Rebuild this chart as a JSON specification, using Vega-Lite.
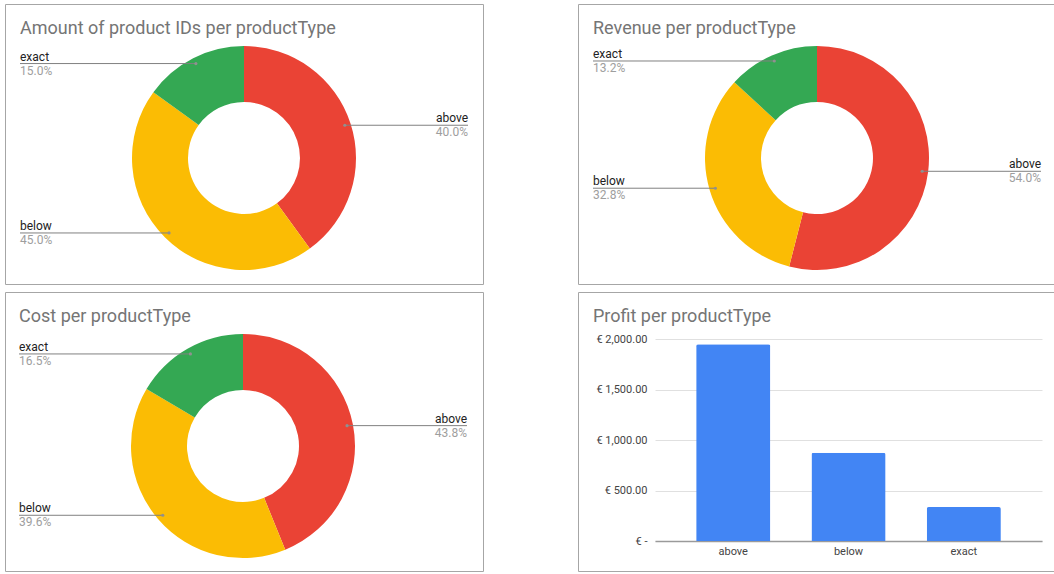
{
  "$schema": "https://vega.github.io/schema/vega-lite/v6.json",
  "background": "white",
  "padding": {"left": 4, "top": 3, "right": 0, "bottom": 0},
  "config": {
    "view": {"stroke": "#a6a6a6", "strokeWidth": 1},
    "font": "Roboto"
  },
  "spacing": 6,
  "vconcat": [
    {
      "spacing": 93,
      "hconcat": [
        {
          "width": 478, "height": 280,
          "title": {"text": "Amount of product IDs per productType", "anchor": "start", "frame": "group", "offset": -47.5, "dx": 15, "baseline": "alphabetic", "fontSize": 18, "fontWeight": "normal", "color": "#757575", "font": "Roboto"},
          "data": {"values": [
            {"type": "above", "value": 8},
            {"type": "below", "value": 9},
            {"type": "exact", "value": 3}
          ]},
          "transform": [
            {"joinaggregate": [{"op": "sum", "field": "value", "as": "total"}]},
            {"window": [{"op": "sum", "field": "value", "as": "cum"}], "sort": [{"field": "type"}], "frame": [null, 0]},
            {"calculate": "2*PI*(datum.cum - datum.value/2)/datum.total", "as": "mid"},
            {"calculate": "106*sin(datum.mid)", "as": "px"},
            {"calculate": "-106*cos(datum.mid)", "as": "py"},
            {"calculate": "datum.px < 0 ? -224 : 224", "as": "lx"},
            {"calculate": "datum.value/datum.total", "as": "pct"}
          ],
          "encoding": {
            "x": {"field": "px", "type": "quantitative", "scale": {"domain": [-239, 239], "nice": false, "zero": false}, "axis": null},
            "y": {"field": "py", "type": "quantitative", "scale": {"domain": [-154, 126], "nice": false, "zero": false, "reverse": true}, "axis": null}
          },
          "layer": [
            {
              "mark": {"type": "arc", "innerRadius": 56, "outerRadius": 112},
              "encoding": {
                "x": {"datum": 0, "type": "quantitative", "scale": {"domain": [-239, 239], "nice": false, "zero": false}, "axis": null},
                "y": {"datum": 0, "type": "quantitative", "scale": {"domain": [-154, 126], "nice": false, "zero": false, "reverse": true}, "axis": null},
                "theta": {"field": "value", "type": "quantitative", "stack": true},
                "order": {"field": "type", "sort": "ascending"},
                "color": {"field": "type", "type": "nominal", "scale": {"domain": ["above", "below", "exact"], "range": ["#EA4335", "#FBBC04", "#34A853"]}, "legend": null}
              }
            },
            {"mark": {"type": "rule", "color": "#808080", "strokeWidth": 1}, "encoding": {"x2": {"field": "lx"}}},
            {"mark": {"type": "circle", "size": 10, "color": "#909090", "opacity": 1}, "encoding": {}},
            {"transform": [{"filter": "datum.lx < 0"}], "mark": {"type": "text", "align": "left", "baseline": "alphabetic", "dy": -3, "fontSize": 12, "color": "#222222"},
             "encoding": {"x": {"field": "lx", "type": "quantitative", "scale": {"domain": [-239, 239], "nice": false, "zero": false}, "axis": null}, "text": {"field": "type"}}},
            {"transform": [{"filter": "datum.lx > 0"}], "mark": {"type": "text", "align": "right", "baseline": "alphabetic", "dy": -3, "fontSize": 12, "color": "#222222"},
             "encoding": {"x": {"field": "lx", "type": "quantitative", "scale": {"domain": [-239, 239], "nice": false, "zero": false}, "axis": null}, "text": {"field": "type"}}},
            {"transform": [{"filter": "datum.lx < 0"}], "mark": {"type": "text", "align": "left", "baseline": "top", "dy": 2, "fontSize": 12, "color": "#9E9E9E"},
             "encoding": {"x": {"field": "lx", "type": "quantitative", "scale": {"domain": [-239, 239], "nice": false, "zero": false}, "axis": null}, "text": {"field": "pct", "type": "quantitative", "format": ".1%"}}},
            {"transform": [{"filter": "datum.lx > 0"}], "mark": {"type": "text", "align": "right", "baseline": "top", "dy": 2, "fontSize": 12, "color": "#9E9E9E"},
             "encoding": {"x": {"field": "lx", "type": "quantitative", "scale": {"domain": [-239, 239], "nice": false, "zero": false}, "axis": null}, "text": {"field": "pct", "type": "quantitative", "format": ".1%"}}}
          ]
        },
        {
          "width": 476, "height": 280,
          "title": {"text": "Revenue per productType", "anchor": "start", "frame": "group", "offset": -47.5, "dx": 15, "baseline": "alphabetic", "fontSize": 18, "fontWeight": "normal", "color": "#757575", "font": "Roboto"},
          "data": {"values": [
            {"type": "above", "value": 54.0},
            {"type": "below", "value": 32.8},
            {"type": "exact", "value": 13.2}
          ]},
          "transform": [
            {"joinaggregate": [{"op": "sum", "field": "value", "as": "total"}]},
            {"window": [{"op": "sum", "field": "value", "as": "cum"}], "sort": [{"field": "type"}], "frame": [null, 0]},
            {"calculate": "2*PI*(datum.cum - datum.value/2)/datum.total", "as": "mid"},
            {"calculate": "106*sin(datum.mid)", "as": "px"},
            {"calculate": "-106*cos(datum.mid)", "as": "py"},
            {"calculate": "datum.px < 0 ? -224 : 224", "as": "lx"},
            {"calculate": "datum.value/datum.total", "as": "pct"}
          ],
          "encoding": {
            "x": {"field": "px", "type": "quantitative", "scale": {"domain": [-239, 237], "nice": false, "zero": false}, "axis": null},
            "y": {"field": "py", "type": "quantitative", "scale": {"domain": [-154, 126], "nice": false, "zero": false, "reverse": true}, "axis": null}
          },
          "layer": [
            {
              "mark": {"type": "arc", "innerRadius": 56, "outerRadius": 112},
              "encoding": {
                "x": {"datum": 0, "type": "quantitative", "scale": {"domain": [-239, 237], "nice": false, "zero": false}, "axis": null},
                "y": {"datum": 0, "type": "quantitative", "scale": {"domain": [-154, 126], "nice": false, "zero": false, "reverse": true}, "axis": null},
                "theta": {"field": "value", "type": "quantitative", "stack": true},
                "order": {"field": "type", "sort": "ascending"},
                "color": {"field": "type", "type": "nominal", "scale": {"domain": ["above", "below", "exact"], "range": ["#EA4335", "#FBBC04", "#34A853"]}, "legend": null}
              }
            },
            {"mark": {"type": "rule", "color": "#808080", "strokeWidth": 1}, "encoding": {"x2": {"field": "lx"}}},
            {"mark": {"type": "circle", "size": 10, "color": "#909090", "opacity": 1}, "encoding": {}},
            {"transform": [{"filter": "datum.lx < 0"}], "mark": {"type": "text", "align": "left", "baseline": "alphabetic", "dy": -3, "fontSize": 12, "color": "#222222"},
             "encoding": {"x": {"field": "lx", "type": "quantitative", "scale": {"domain": [-239, 237], "nice": false, "zero": false}, "axis": null}, "text": {"field": "type"}}},
            {"transform": [{"filter": "datum.lx > 0"}], "mark": {"type": "text", "align": "right", "baseline": "alphabetic", "dy": -3, "fontSize": 12, "color": "#222222"},
             "encoding": {"x": {"field": "lx", "type": "quantitative", "scale": {"domain": [-239, 237], "nice": false, "zero": false}, "axis": null}, "text": {"field": "type"}}},
            {"transform": [{"filter": "datum.lx < 0"}], "mark": {"type": "text", "align": "left", "baseline": "top", "dy": 2, "fontSize": 12, "color": "#9E9E9E"},
             "encoding": {"x": {"field": "lx", "type": "quantitative", "scale": {"domain": [-239, 237], "nice": false, "zero": false}, "axis": null}, "text": {"field": "pct", "type": "quantitative", "format": ".1%"}}},
            {"transform": [{"filter": "datum.lx > 0"}], "mark": {"type": "text", "align": "right", "baseline": "top", "dy": 2, "fontSize": 12, "color": "#9E9E9E"},
             "encoding": {"x": {"field": "lx", "type": "quantitative", "scale": {"domain": [-239, 237], "nice": false, "zero": false}, "axis": null}, "text": {"field": "pct", "type": "quantitative", "format": ".1%"}}}
          ]
        }
      ]
    },
    {
      "spacing": 93,
      "hconcat": [
        {
          "width": 478, "height": 279,
          "title": {"text": "Cost per productType", "anchor": "start", "frame": "group", "offset": -47.5, "dx": 14, "baseline": "alphabetic", "fontSize": 18, "fontWeight": "normal", "color": "#757575", "font": "Roboto"},
          "data": {"values": [
            {"type": "above", "value": 43.8},
            {"type": "below", "value": 39.6},
            {"type": "exact", "value": 16.5}
          ]},
          "transform": [
            {"joinaggregate": [{"op": "sum", "field": "value", "as": "total"}]},
            {"window": [{"op": "sum", "field": "value", "as": "cum"}], "sort": [{"field": "type"}], "frame": [null, 0]},
            {"calculate": "2*PI*(datum.cum - datum.value/2)/datum.total", "as": "mid"},
            {"calculate": "106*sin(datum.mid)", "as": "px"},
            {"calculate": "-106*cos(datum.mid)", "as": "py"},
            {"calculate": "datum.px < 0 ? -224 : 224", "as": "lx"},
            {"calculate": "datum.value/datum.total", "as": "pct"}
          ],
          "encoding": {
            "x": {"field": "px", "type": "quantitative", "scale": {"domain": [-238, 240], "nice": false, "zero": false}, "axis": null},
            "y": {"field": "py", "type": "quantitative", "scale": {"domain": [-154, 125], "nice": false, "zero": false, "reverse": true}, "axis": null}
          },
          "layer": [
            {
              "mark": {"type": "arc", "innerRadius": 56, "outerRadius": 112},
              "encoding": {
                "x": {"datum": 0, "type": "quantitative", "scale": {"domain": [-238, 240], "nice": false, "zero": false}, "axis": null},
                "y": {"datum": 0, "type": "quantitative", "scale": {"domain": [-154, 125], "nice": false, "zero": false, "reverse": true}, "axis": null},
                "theta": {"field": "value", "type": "quantitative", "stack": true},
                "order": {"field": "type", "sort": "ascending"},
                "color": {"field": "type", "type": "nominal", "scale": {"domain": ["above", "below", "exact"], "range": ["#EA4335", "#FBBC04", "#34A853"]}, "legend": null}
              }
            },
            {"mark": {"type": "rule", "color": "#808080", "strokeWidth": 1}, "encoding": {"x2": {"field": "lx"}}},
            {"mark": {"type": "circle", "size": 10, "color": "#909090", "opacity": 1}, "encoding": {}},
            {"transform": [{"filter": "datum.lx < 0"}], "mark": {"type": "text", "align": "left", "baseline": "alphabetic", "dy": -3, "fontSize": 12, "color": "#222222"},
             "encoding": {"x": {"field": "lx", "type": "quantitative", "scale": {"domain": [-238, 240], "nice": false, "zero": false}, "axis": null}, "text": {"field": "type"}}},
            {"transform": [{"filter": "datum.lx > 0"}], "mark": {"type": "text", "align": "right", "baseline": "alphabetic", "dy": -3, "fontSize": 12, "color": "#222222"},
             "encoding": {"x": {"field": "lx", "type": "quantitative", "scale": {"domain": [-238, 240], "nice": false, "zero": false}, "axis": null}, "text": {"field": "type"}}},
            {"transform": [{"filter": "datum.lx < 0"}], "mark": {"type": "text", "align": "left", "baseline": "top", "dy": 2, "fontSize": 12, "color": "#9E9E9E"},
             "encoding": {"x": {"field": "lx", "type": "quantitative", "scale": {"domain": [-238, 240], "nice": false, "zero": false}, "axis": null}, "text": {"field": "pct", "type": "quantitative", "format": ".1%"}}},
            {"transform": [{"filter": "datum.lx > 0"}], "mark": {"type": "text", "align": "right", "baseline": "top", "dy": 2, "fontSize": 12, "color": "#9E9E9E"},
             "encoding": {"x": {"field": "lx", "type": "quantitative", "scale": {"domain": [-238, 240], "nice": false, "zero": false}, "axis": null}, "text": {"field": "pct", "type": "quantitative", "format": ".1%"}}}
          ]
        },
        {
          "width": 476, "height": 279,
          "title": {"text": "Profit per productType", "anchor": "start", "frame": "group", "offset": -47.5, "dx": 15, "baseline": "alphabetic", "fontSize": 18, "fontWeight": "normal", "color": "#757575", "font": "Roboto"},
          "data": {"values": [
            {"type": "above", "profit": 1948},
            {"type": "below", "profit": 874},
            {"type": "exact", "profit": 336}
          ]},
          "mark": {"type": "bar", "color": "#4285F4", "cornerRadiusTopLeft": 2, "cornerRadiusTopRight": 2},
          "encoding": {
            "x": {
              "field": "type", "type": "nominal",
              "scale": {"range": [77, 464], "paddingInner": 0.357, "paddingOuter": 0.357},
              "axis": {"title": null, "labelAngle": 0, "offset": -30, "domainColor": "#9a9a9a", "domainWidth": 1.5, "ticks": false, "grid": false, "labelColor": "#444444", "labelFontSize": 11, "labelPadding": 4, "labelFont": "Roboto"}
            },
            "y": {
              "field": "profit", "type": "quantitative",
              "scale": {"domain": [0, 2000], "range": [249, 47], "nice": false},
              "axis": {"title": null, "offset": -77, "values": [0, 500, 1000, 1500, 2000], "labelExpr": "datum.value == 0 ? '€ -' : '€ ' + format(datum.value, ',.2f')", "domain": false, "ticks": false, "grid": true, "gridColor": "#e0e0e0", "gridWidth": 1, "labelColor": "#444444", "labelFontSize": 11, "labelPadding": 8, "labelFont": "Roboto"}
            }
          }
        }
      ]
    }
  ]
}
